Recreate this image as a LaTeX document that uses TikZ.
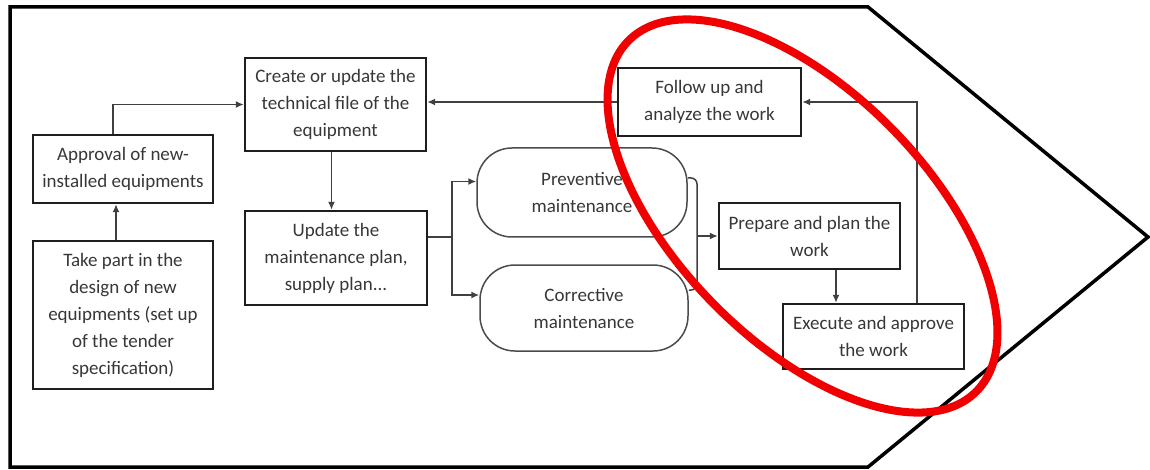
\documentclass[tikz,border=0pt]{standalone}
\usepackage{fontspec}
\setmainfont{Carlito}
\usetikzlibrary{arrows.meta}
\definecolor{txt}{RGB}{55,55,55}
\definecolor{lin}{RGB}{30,30,30}
\definecolor{hired}{RGB}{240,0,0}
\begin{document}
\begin{tikzpicture}[x=1pt,y=-1pt,
  every node/.style={font=\fontsize{19}{27}\selectfont, text=txt, align=center, inner sep=0pt},
  stepbox/.style={draw=lin, line width=2.4pt, rectangle},
  roundbox/.style={draw=lin!80, line width=1.5pt, rectangle, rounded corners=35pt},
  conn/.style={draw=lin!85, line width=1.5pt},
  arr/.style={conn, -{Latex[length=8pt,width=7pt]}},
  outer/.style={draw=black, line width=3.5pt, line join=miter}
]
\useasboundingbox (0,0) rectangle (1150,470);

% chevron frame
\draw[outer] (10,7) -- (868,7) -- (1148,237) -- (868,467) -- (10,467) -- cycle;

% boxes
\node[stepbox, minimum width=181pt, minimum height=93pt] (create) at (335.5,104.5)
  {Create or update the\\technical file of the\\equipment};
\node[stepbox, minimum width=180pt, minimum height=68pt] (appr) at (123,169)
  {Approval of new-\\installed equipments};
\node[stepbox, minimum width=180pt, minimum height=148pt] (take) at (123,315)
  {Take part in the\\design of new\\equipments (set up\\of the tender\\specification)};
\node[stepbox, minimum width=182pt, minimum height=94pt] (update) at (336,258)
  {Update the\\maintenance plan,\\supply plan...};
\node[roundbox, minimum width=210pt, minimum height=89pt] (prev) at (582,192.5)
  {Preventive\\maintenance};
\node[roundbox, minimum width=208pt, minimum height=86pt] (corr) at (584,308)
  {Corrective\\maintenance};
\node[stepbox, minimum width=183pt, minimum height=68pt] (follow) at (709.5,102)
  {Follow up and\\analyze the work};
\node[stepbox, minimum width=181pt, minimum height=66pt] (prep) at (809.5,236)
  {Prepare and plan the\\work};
\node[stepbox, minimum width=181pt, minimum height=65pt] (exec) at (873.5,336.5)
  {Execute and approve\\the work};

% routing points
\coordinate (br) at (452,237);
\coordinate (m1) at (697,178);
\coordinate (m2) at (697,290);
\coordinate (d1) at (836,0);
\coordinate (r1) at (917,0);

% connectors
\draw[arr] ([xshift=-7pt]take.north) -- ([xshift=-7pt]appr.south);
\draw[arr] ([xshift=-10pt]appr.north) |- (create.west);
\draw[arr] ([xshift=-4pt]create.south) -- ([xshift=-4pt]create.south |- update.north);
\draw[conn] (update.east |- br) -- (br);
\draw[arr] (br) |- ([yshift=11pt]prev.west);
\draw[arr] (br) |- ([yshift=13pt]corr.west);
\draw[conn, rounded corners=6pt] (prev.east |- m1) -- (m1) -- (m2) -- (corr.east |- m2);
\draw[arr] (m1 |- prep.west) -- (prep.west);
\draw[arr] (prep.south -| d1) -- (exec.north -| d1);
\draw[arr] (exec.north -| r1) |- (follow.east);
\draw[arr] (follow.west) -- (create.east |- follow.west);

% highlight
\draw[hired, line width=8pt, rotate around={-45.4:(802.5,216)}] (802.5,216) ellipse [x radius=247pt, y radius=125pt];
\end{tikzpicture}
\end{document}
